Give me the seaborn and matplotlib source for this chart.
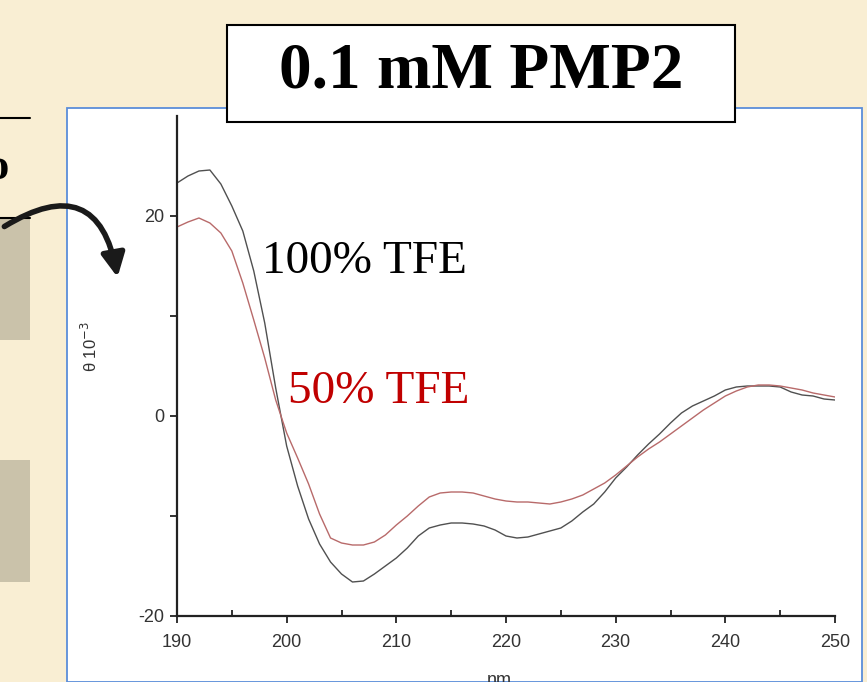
import pandas as pd
import numpy as np
import matplotlib.pyplot as plt
import seaborn as sns
from matplotlib.patches import Rectangle, FancyArrowPatch
from matplotlib.lines import Line2D

# wavelength grid (nm) and CD signal (theta x 10^-3)
wavelength = list(range(190, 251))
tfe_100 = [23.3, 24.0, 24.5, 24.6, 23.2, 21.0, 18.5, 14.5, 9.3, 2.8,
           -3.0, -7.0, -10.3, -12.8, -14.6, -15.8, -16.6, -16.5, -15.8, -15.0,
           -14.2, -13.2, -12.0, -11.2, -10.9, -10.7, -10.7, -10.8, -11.0, -11.4,
           -12.0, -12.2, -12.1, -11.8, -11.5, -11.2, -10.5, -9.6, -8.8, -7.6,
           -6.2, -5.1, -3.9, -2.8, -1.8, -0.7, 0.3, 1.0, 1.5, 2.0,
           2.6, 2.9, 3.0, 3.0, 3.0, 2.9, 2.4, 2.1, 2.0, 1.7, 1.6]
tfe_50 = [18.9, 19.4, 19.8, 19.3, 18.3, 16.5, 13.3, 9.6, 5.8, 1.6,
          -1.7, -4.2, -6.8, -9.8, -12.2, -12.7, -12.9, -12.9, -12.6, -11.9,
          -10.9, -10.0, -9.0, -8.1, -7.7, -7.6, -7.6, -7.7, -8.0, -8.3,
          -8.5, -8.6, -8.6, -8.7, -8.8, -8.6, -8.3, -7.9, -7.3, -6.7,
          -5.9, -5.0, -4.1, -3.3, -2.6, -1.8, -1.0, -0.2, 0.6, 1.3,
          2.0, 2.5, 2.9, 3.1, 3.1, 3.0, 2.8, 2.6, 2.3, 2.1, 1.9]
samples = ['100% TFE', '50% TFE']
x_ticks = [190, 200, 210, 220, 230, 240, 250]
y_ticks = [-20, 0, 20]

W, H = 867, 682
def px(x, y):
  # pixel position -> figure fraction
  return (x / W, 1 - y / H)

df = pd.DataFrame({
  'nm': wavelength * 2,
  'theta': tfe_100 + tfe_50,
  'sample': [samples[0]] * len(wavelength) + [samples[1]] * len(wavelength),
})

sns.set_style('white')
plt.rcParams['font.family'] = ['Liberation Sans', 'DejaVu Sans']
plt.rcParams['axes.unicode_minus'] = False

fig = plt.figure(figsize=(W / 100, H / 100), dpi=100)
fig.patch.set_facecolor('#F9EED3')

# slide decorations
fig.add_artist(Rectangle(px(67, 682), (862 - 67) / W, (682 - 108) / H, transform=fig.transFigure,
                         facecolor='white', edgecolor='#5B8DD9', lw=1.3, zorder=-5))
for top, bottom in [(218, 340), (460, 582)]:
  fig.add_artist(Rectangle(px(0, bottom), 30 / W, (bottom - top) / H, transform=fig.transFigure,
                           facecolor='#CAC2AA', edgecolor='none', zorder=-4))
for yy in [118, 218]:
  fig.add_artist(Line2D([0, 30 / W], [1 - yy / H] * 2, transform=fig.transFigure, color='black', lw=1.5))
fig.text(-14 / W, 1 - 168 / H, 'o', fontsize=32, fontweight='bold', family='Liberation Serif',
         color='black', ha='left', va='center')
fig.add_artist(FancyArrowPatch(px(2, 228), px(118, 280), transform=fig.transFigure,
                               connectionstyle='arc3,rad=-0.75',
                               arrowstyle='-|>,head_length=14,head_width=7',
                               color='#1a1a1a', lw=4, zorder=3))

# title box
fig.add_artist(Rectangle(px(227, 122), (735 - 227) / W, (122 - 25) / H, transform=fig.transFigure,
                         facecolor='white', edgecolor='black', lw=1.5, zorder=2))
fig.text(*px(481, 72), '0.1 mM PMP2', fontsize=47, fontweight='bold', family='Liberation Serif',
         color='black', ha='center', va='center', zorder=3)

ax = fig.add_axes([177 / W, (H - 616) / H, (835 - 177) / W, (616 - 116) / H])
ax.patch.set_alpha(0)
sns.lineplot(data=df, x='nm', y='theta', hue='sample', ax=ax, legend=False,
             palette={samples[0]: '#505050', samples[1]: '#B86A6A'}, lw=1.0)
ax.set_xlim(190, 250)
ax.set_ylim(-20, 30)
ax.set_xticks(x_ticks)
ax.set_xticks(np.arange(195, 250, 10), minor=True)
ax.set_yticks(y_ticks)
ax.set_yticks([-10, 10], minor=True)
sns.despine(ax=ax)
for s in ['left', 'bottom']:
  ax.spines[s].set_color('#222222')
  ax.spines[s].set_linewidth(1.6)
ax.tick_params(axis='y', which='both', direction='out', length=5, width=1.3, color='#222222',
               labelsize=13, labelcolor='#333333', pad=4, left=True)
ax.tick_params(axis='x', which='major', direction='out', length=5, width=1.3, color='#222222',
               labelsize=13, labelcolor='#333333', pad=8, bottom=True)
ax.tick_params(axis='x', which='minor', direction='in', length=4, width=1.3, color='#222222', bottom=True)
ax.set_ylabel(r'θ 10$^{-3}$', fontsize=12, color='#333333')
ax.yaxis.set_label_coords(-0.117, 0.538)
ax.set_xlabel('nm', fontsize=13, color='#333333')
ax.xaxis.set_label_coords(0.49, -0.112)

ax.text(197.75, 15.4, samples[0], fontsize=34, family='Liberation Serif', color='black', va='center')
ax.text(200.1, 2.4, samples[1], fontsize=34, family='Liberation Serif', color='#C00000', va='center')

plt.savefig('out.png', dpi=100, facecolor=fig.get_facecolor())
